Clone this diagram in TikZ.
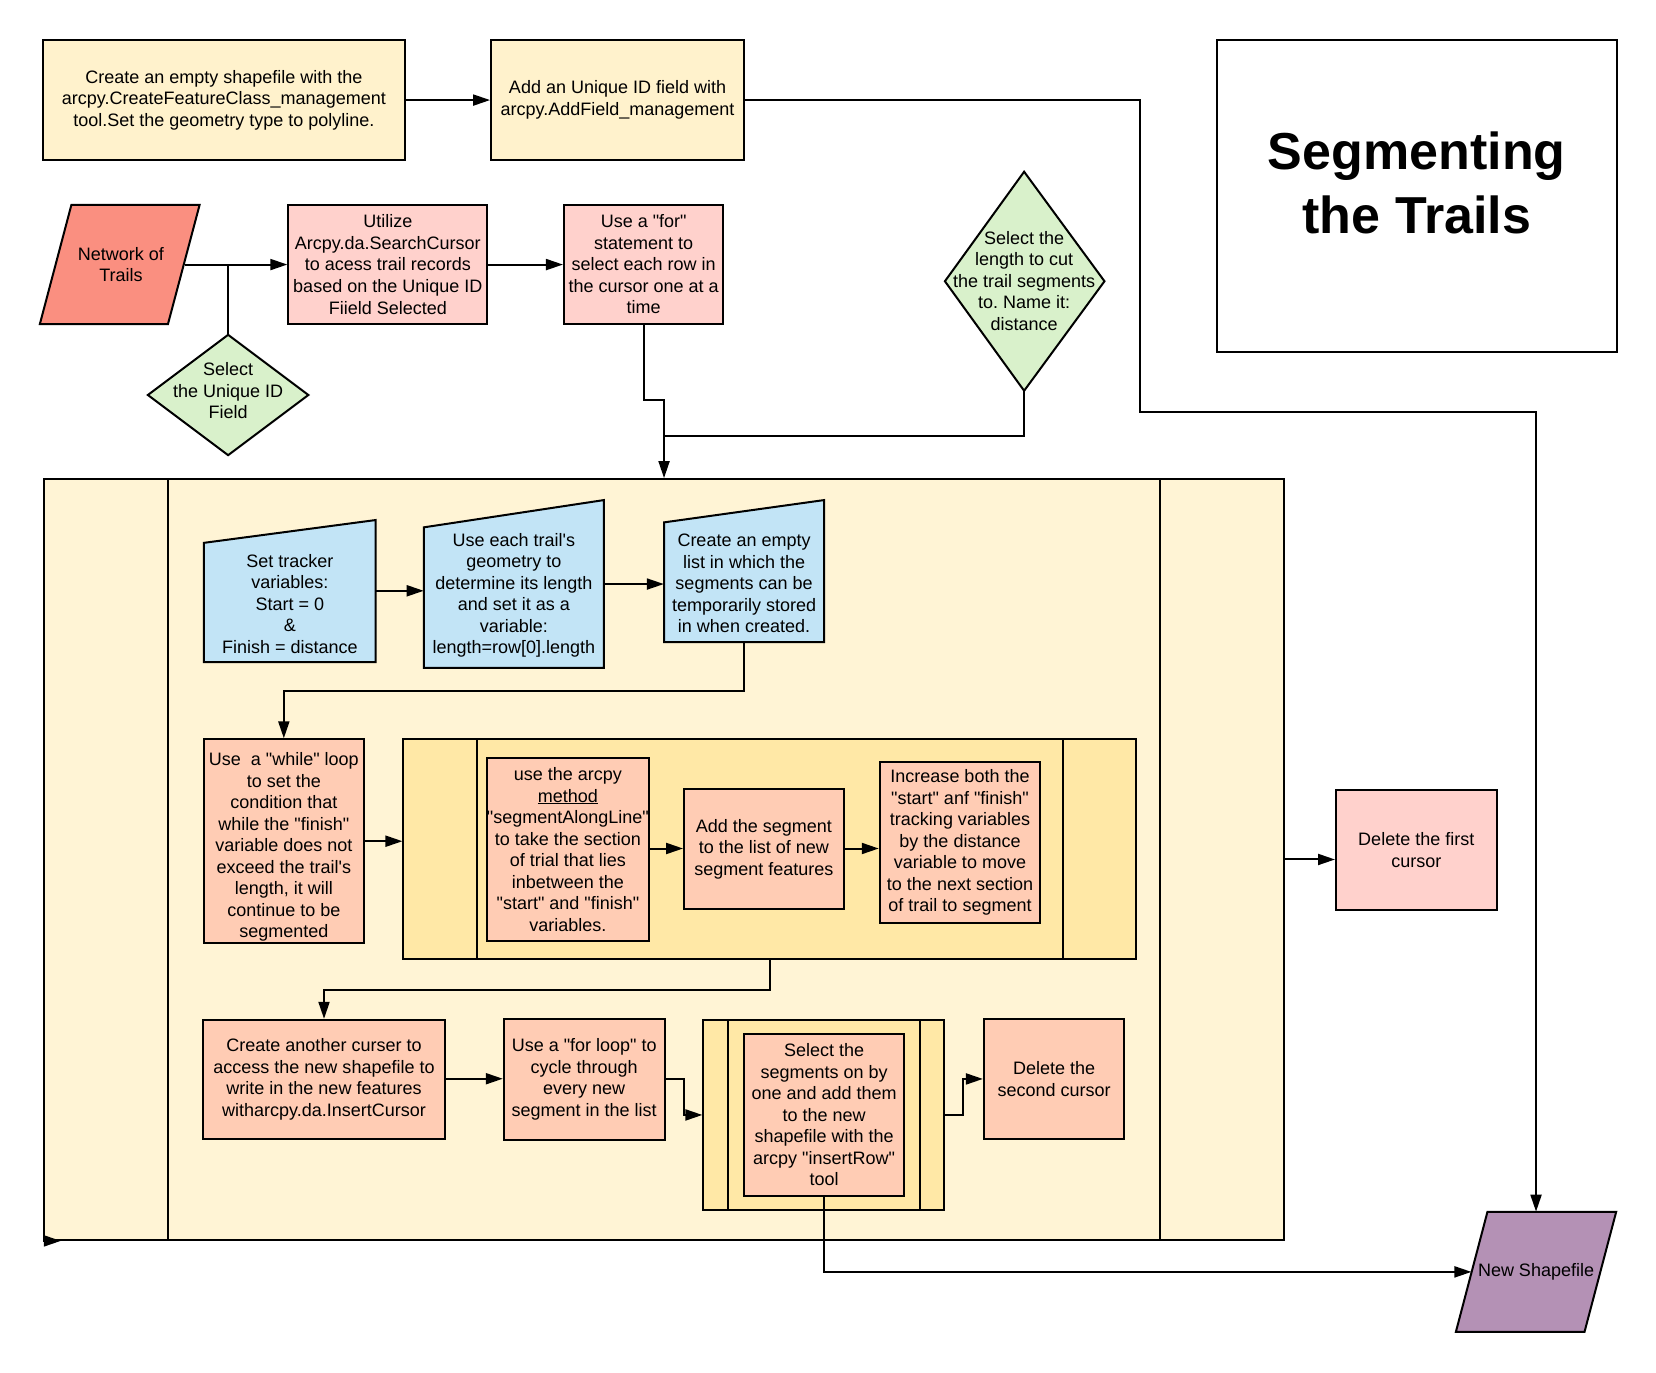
\documentclass[tikz,border=0pt]{standalone}
\usepackage{fontspec}
\newfontfamily\lib{Liberation Sans}
\usetikzlibrary{arrows.meta}
\definecolor{cYel}{HTML}{FFF2CC}
\definecolor{cSal}{HTML}{FA8F80}
\definecolor{cPink}{HTML}{FFD1CC}
\definecolor{cGreen}{HTML}{D9F1CB}
\definecolor{cCream}{HTML}{FFF4D5}
\definecolor{cBlue}{HTML}{C2E4F6}
\definecolor{cPeach}{HTML}{FFCCB4}
\definecolor{cGold}{HTML}{FFE8A6}
\definecolor{cPurp}{HTML}{B491B5}
\newcommand\rbx[7]{\node[rect,fill=#6,minimum width={(#4-#2)*1.056pt},minimum height={(#5-#3)*1.056pt}] (#1) at ({(#2+#4)/2},{(#3+#5)/2}) {#7};}
\frenchspacing
\begin{document}
\frenchspacing
\begin{tikzpicture}[x=1.056pt,y=-1.056pt,
  txt/.style={align=center,inner sep=0pt,font=\lib\frenchspacing\fontsize{18}{21.5}\selectfont},
  rect/.style={txt,draw,line width=2pt,rectangle},
  shp/.style={draw,line width=2pt,line join=miter},
  ln/.style={draw,line width=2pt},
  arr/.style={draw,line width=2pt,-{Triangle[length=17pt,width=11pt]}},
  ttl/.style={align=center,inner sep=0pt,font=\lib\bfseries\fontsize{52}{64}\selectfont}]
\useasboundingbox (0,0) rectangle (1568,1299.2);
\fill[white] (0,0) rectangle (1568,1299.2);

% top row
\rbx{create}{41}{38}{383}{151.5}{cYel}{Create an empty shapefile with the\\arcpy.CreateFeatureClass\_management\\tool.Set the geometry type to polyline.}
\rbx{addid}{465}{38}{704.5}{151.5}{cYel}{Add an Unique ID field with\\arcpy.AddField\_management}
\rbx{title}{1152}{38}{1531}{333}{white}{}
\node[ttl] (ttltxt) at (1341.5,173) {Segmenting\\the Trails};

% second row
\draw[shp,fill=cSal] (67.6,194) -- (189,194) -- (159,307) -- (37.7,307) -- cycle;
\node[txt,minimum width={121*1.056pt},minimum height={113*1.056pt}] (net) at (114.5,250.5) {Network of\\Trails};
\rbx{util}{273}{194}{461.4}{307}{cPink}{Utilize\\Arcpy.da.SearchCursor\\to acess trail records\\based on the Unique ID\\Fiield Selected}
\rbx{usefor}{534}{194}{685}{307}{cPink}{Use a "for"\\statement to\\select each row in\\the cursor one at a\\time}

\draw[shp,fill=cGreen] (216,317) -- (292,374) -- (216,431) -- (140,374) -- cycle;
\node[txt] (diam1) at (216,370) {Select\\the Unique ID\\Field};
\coordinate (d1n) at (216,317);

\draw[shp,fill=cGreen] (969.7,162.6) -- (1045.8,266.3) -- (969.7,370) -- (894.7,266.3) -- cycle;
\node[txt] (diam2) at (969.7,266) {Select the\\length to cut\\the trail segments\\to. Name it:\\distance};
\coordinate (d2s) at (969.7,370);

% big container
\rbx{loop1}{41.5}{453.6}{1216}{1174}{cCream}{}
\draw[ln] (158.8,453.6) -- (158.8,1174);
\draw[ln] (1098.5,453.6) -- (1098.5,1174);

% blue manual inputs
\draw[shp,fill=cBlue] (193,514) -- (355.7,492.4) -- (355.7,627) -- (193,627) -- cycle;
\node[txt,minimum width={162.7*1.056pt}] (st) at (274.4,571.5) {Set tracker\\variables:\\Start = 0\\\&\\Finish = distance};
\draw[shp,fill=cBlue] (401.4,499.3) -- (571.8,473.5) -- (571.8,632.3) -- (401.4,632.3) -- cycle;
\node[txt,minimum width={170.4*1.056pt}] (ue) at (486.6,563.5) {Use each trail's\\geometry to\\determine its length\\and set it as a\\variable:\\length=row[0].length};
\draw[shp,fill=cBlue] (628.8,494.6) -- (780.3,473.5) -- (780.3,608) -- (628.8,608) -- cycle;
\node[txt,minimum width={151.5*1.056pt}] (cl) at (704.5,552.5) {Create an empty\\list in which the\\segments can be\\temporarily stored\\in when created.};
\coordinate (clb) at (704.5,608);

% while row
\rbx{wl}{193}{700}{344.5}{893}{cPeach}{\rule{0pt}{25pt}Use\ \ a "while" loop\\to set the\\condition that\\while the "finish"\\variable does not\\exceed the trail's\\length, it will\\continue to be\\segmented}
\rbx{ic}{382}{700}{1075.8}{908.4}{cGold}{}
\draw[ln] (451.7,700) -- (451.7,908.4);
\draw[ln] (1006.3,700) -- (1006.3,908.4);
\rbx{am}{462}{717.5}{613.5}{891}{cPeach}{use the arcpy\\\underline{method}\\"segmentAlongLine"\\to take the section\\of trial that lies\\inbetween the\\"start" and "finish"\\variables.}
\rbx{as}{647.7}{747}{799}{861}{cPeach}{Add the segment\\to the list of new\\segment features}
\rbx{inc}{833}{721.3}{985}{874}{cPeach}{Increase both the\\"start" anf "finish"\\tracking variables\\by the distance\\variable to move\\to the next section\\of trail to segment}
\rbx{df}{1265}{748}{1417}{862}{cPink}{Delete the first\\cursor}

% bottom row
\rbx{ca}{192.6}{965.6}{421}{1078}{cPeach}{Create another curser to\\access the new shapefile to\\write in the new features\\witharcpy.da.InsertCursor}
\rbx{ufl}{477}{965}{629.3}{1079}{cPeach}{Use a "for loop" to\\cycle through\\every new\\segment in the list}
\rbx{sc}{666}{965.6}{893.8}{1145.8}{cGold}{}
\draw[ln] (689,965.6) -- (689,1145.8);
\draw[ln] (871.5,965.6) -- (871.5,1145.8);
\rbx{ss}{704.2}{979}{856.4}{1132}{cPeach}{Select the\\segments on by\\one and add them\\to the new\\shapefile with the\\arcpy "insertRow"\\tool}
\rbx{dsc}{931.6}{964.6}{1064.7}{1078.6}{cPeach}{Delete the\\second cursor}

% new shapefile
\draw[shp,fill=cPurp] (1408.4,1147.4) -- (1530.3,1147.4) -- (1500.3,1261.1) -- (1378.5,1261.1) -- cycle;
\node[txt,minimum width={121.9*1.056pt},minimum height={113.7*1.056pt}] (ns) at (1454.4,1204.3) {New Shapefile};

% connectors
\coordinate (j1) at (1079.4,390.5);
\coordinate (m1) at (628.75,379);
\draw[arr] (create) -- (addid);
\draw[arr] (addid.east) -| (j1) -| (ns.north);
\draw[arr] (net.east) -- (util.west);
\draw[ln] (d1n |- net.east) -- (d1n);
\draw[arr] (util) -- (usefor);
\draw[arr] (usefor.south) |- (m1) -- (loop1.north);
\draw[ln] (d2s) |- (m1 |- 0,412.6);
\draw[arr] (st.east |- 0,559.4) -- (ue.west |- 0,559.4);
\draw[arr] (ue.east |- 0,553) -- (cl.west |- 0,553);
\draw[arr] (clb) |- (wl.north |- 0,654) -- (wl.north);
\draw[arr] (wl.east) -- (wl.east -| ic.west);
\draw[arr] (am.east |- 0,803.4) -- (as.west |- 0,803.4);
\draw[arr] (as.east |- 0,803.4) -- (inc.west |- 0,803.4);
\draw[arr] (ic.south) |- (ca.north |- 0,937.5) -- (ca.north);
\draw[arr] (ca.east |- 0,1021.4) -- (ufl.west |- 0,1021.4);
\draw[arr] (ufl.east |- 0,1021.4) -- (648,1021.4) |- (sc.west);
\draw[arr] (sc.east) -- (912,1055.7) |- (dsc.west);
\draw[arr] (ss.south) |- (ns.west);
\draw[arr] (loop1.east) -- (loop1.east -| df.west);
\draw[arr] (loop1.south west) -- ++(17,0);
\end{tikzpicture}
\end{document}
